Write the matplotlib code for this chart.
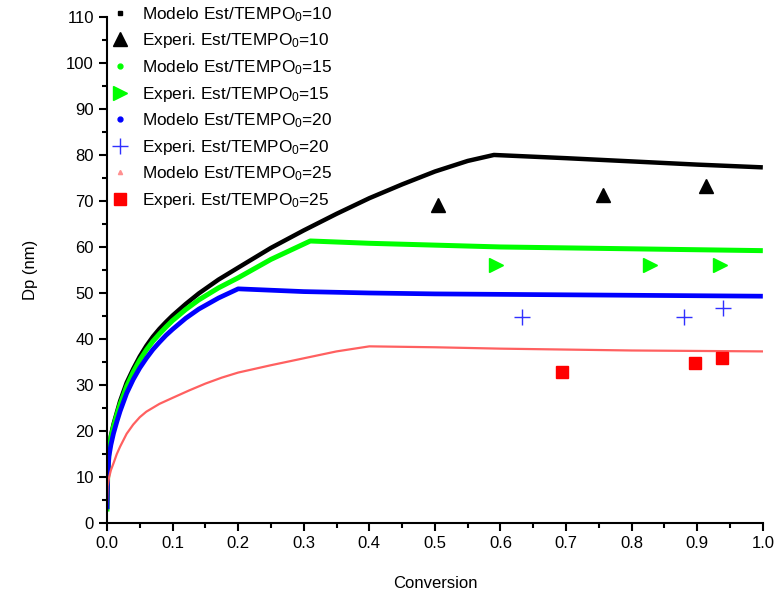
import matplotlib
matplotlib.use("Agg")
import matplotlib.pyplot as plt
from matplotlib.lines import Line2D

plt.rcParams['font.family'] = ['Liberation Sans', 'DejaVu Sans']
plt.rcParams['mathtext.fontset'] = 'custom'
plt.rcParams['mathtext.rm'] = 'Liberation Sans'
plt.rcParams['mathtext.default'] = 'regular'

# modelo, Est/TEMPO0 = 10
x10 = [0, 0.001, 0.003, 0.006, 0.01, 0.015, 0.02, 0.03, 0.04, 0.05, 0.06, 0.07, 0.08,
       0.09, 0.1, 0.12, 0.14, 0.17, 0.2, 0.25, 0.3, 0.35, 0.4, 0.45, 0.5, 0.55, 0.59,
       0.7, 0.8, 0.9, 1.0]
y10 = [3, 10, 16, 19, 21.5, 24, 26.5, 30.5, 33.5, 36.2, 38.5, 40.5, 42.2,
       43.7, 45.1, 47.6, 49.9, 52.9, 55.5, 59.8, 63.6, 67.2, 70.6, 73.6, 76.4, 78.7, 80,
       79.3, 78.6, 77.9, 77.3]

# modelo, Est/TEMPO0 = 15
x15 = [0, 0.001, 0.003, 0.006, 0.01, 0.015, 0.02, 0.03, 0.04, 0.05, 0.06, 0.07, 0.08,
       0.09, 0.1, 0.12, 0.14, 0.17, 0.2, 0.25, 0.31, 0.4, 0.5, 0.6, 0.7, 0.8, 0.9, 1.0]
y15 = [2.5, 10, 15.5, 18.5, 21, 23.5, 25.8, 29.7, 32.8, 35.4, 37.6, 39.5, 41.1,
       42.6, 44, 46.4, 48.5, 51.1, 53.3, 57.3, 61.3, 60.8, 60.4, 60.0, 59.8, 59.6, 59.4, 59.2]

# modelo, Est/TEMPO0 = 20
x20 = [0, 0.001, 0.003, 0.006, 0.01, 0.015, 0.02, 0.03, 0.04, 0.05, 0.06, 0.07, 0.08,
       0.09, 0.1, 0.12, 0.14, 0.17, 0.2, 0.3, 0.4, 0.5, 0.6, 0.7, 0.8, 0.9, 1.0]
y20 = [3, 10, 14.5, 17, 19.5, 22, 24.3, 28.2, 31.2, 33.7, 35.8, 37.7, 39.3,
       40.8, 42.1, 44.5, 46.5, 48.9, 50.9, 50.3, 50.0, 49.8, 49.7, 49.6, 49.5, 49.4, 49.3]

# modelo, Est/TEMPO0 = 25
x25 = [0, 0.001, 0.003, 0.006, 0.01, 0.015, 0.02, 0.03, 0.04, 0.05, 0.06, 0.08, 0.1,
       0.125, 0.15, 0.175, 0.2, 0.25, 0.3, 0.35, 0.4, 0.5, 0.6, 0.7, 0.8, 0.9, 1.0]
y25 = [4, 8, 9.8, 11.5, 13, 15, 16.6, 19.4, 21.4, 23, 24.2, 25.9, 27.2,
       28.8, 30.3, 31.6, 32.7, 34.3, 35.8, 37.3, 38.4, 38.2, 37.9, 37.7, 37.5, 37.4, 37.3]

# experimental points
xe10 = [0.505, 0.756, 0.914]
ye10 = [69.2, 71.3, 73.3]
xe15 = [0.593, 0.828, 0.934]
ye15 = [56, 56, 56]
xe20 = [0.633, 0.88, 0.94]
ye20 = [44.8, 44.8, 46.8]
xe25 = [0.694, 0.896, 0.937]
ye25 = [32.8, 34.8, 35.9]

fig = plt.figure(figsize=(7.78, 5.94), dpi=100)
ax = fig.add_axes([0.1375, 0.1195, 0.843, 0.852])

ax.plot(x10, y10, color='black', lw=3.2, solid_capstyle='butt')
ax.plot(x15, y15, color='#00ff00', lw=3.6, solid_capstyle='butt')
ax.plot(x20, y20, color='#0000ff', lw=3.4, solid_capstyle='butt')
ax.plot(x25, y25, color='#ff6060', lw=1.6)

ax.plot(xe10, ye10, ls='none', marker='^', color='black', ms=10)
ax.plot(xe15, ye15, ls='none', marker='>', color='#00ff00', ms=10)
ax.plot(xe20, ye20, ls='none', marker='+', color='#3030ff', ms=11, mew=1)
ax.plot(xe25, ye25, ls='none', marker='s', color='red', ms=8)

ax.set_xlim(0, 1.0)
ax.set_ylim(0, 110)
ax.set_xticks([i / 10 for i in range(11)])
ax.set_xticks([0.05 + i / 10 for i in range(10)], minor=True)
ax.set_yticks(range(0, 111, 10))
ax.set_yticks(range(5, 110, 10), minor=True)
ax.spines['top'].set_visible(False)
ax.spines['right'].set_visible(False)
ax.spines['left'].set_linewidth(1.5)
ax.spines['bottom'].set_linewidth(1.5)
ax.tick_params(which='major', direction='out', length=6, width=1.5, labelsize=12)
ax.tick_params(which='minor', direction='out', length=3.5, width=1.5)
ax.set_xlabel('Conversion', fontsize=12, labelpad=18)
ax.set_ylabel('Dp (nm)', fontsize=12, labelpad=20)

handles = [
    Line2D([], [], ls='none', marker='s', color='black', ms=3.5),
    Line2D([], [], ls='none', marker='^', color='black', ms=10),
    Line2D([], [], ls='none', marker='o', color='#00ff00', ms=3.5),
    Line2D([], [], ls='none', marker='>', color='#00ff00', ms=10),
    Line2D([], [], ls='none', marker='o', color='#0000ff', ms=3.5),
    Line2D([], [], ls='none', marker='+', color='#3030ff', ms=11, mew=1),
    Line2D([], [], ls='none', marker='^', color='#ff9090', ms=3),
    Line2D([], [], ls='none', marker='s', color='red', ms=8),
]
labels = [r'Modelo Est/TEMPO$_0$=10', r'Experi. Est/TEMPO$_0$=10',
          r'Modelo Est/TEMPO$_0$=15', r'Experi. Est/TEMPO$_0$=15',
          r'Modelo Est/TEMPO$_0$=20', r'Experi. Est/TEMPO$_0$=20',
          r'Modelo Est/TEMPO$_0$=25', r'Experi. Est/TEMPO$_0$=25']
fig.legend(handles, labels, loc='upper left', bbox_to_anchor=(0.125, 1.012),
           frameon=False, fontsize=12.4, handlelength=1.2, handletextpad=0.7,
           labelspacing=0.45, borderpad=0.2)

fig.savefig('out.png', dpi=100)
